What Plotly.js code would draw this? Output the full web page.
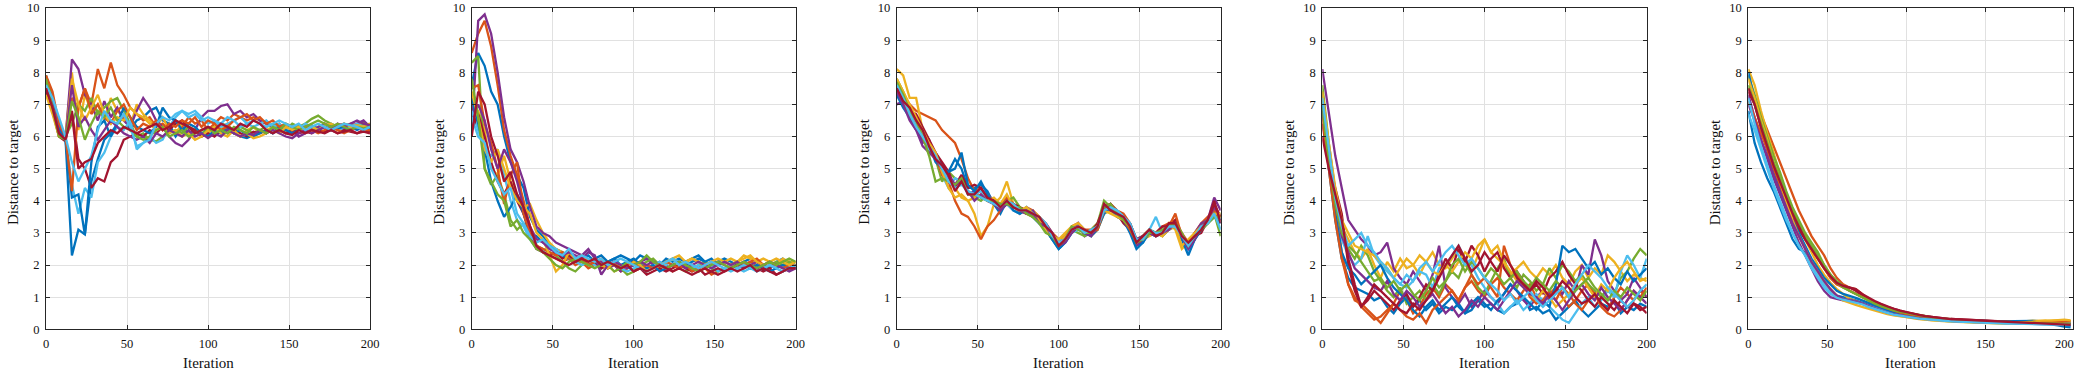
<!DOCTYPE html>
<html>
<head>
<meta charset="utf-8">
<script src="https://cdn.plot.ly/plotly-3.0.1.min.js"></script>
<style>html,body{margin:0;padding:0;background:#fff;}#chart{width:2079px;height:373px;}</style>
</head>
<body>
<div id="chart"></div>
<script>
// Iteration grid (sampled every 4 iterations)
const iterations = [0,4,8,12,16,20,24,28,32,36,40,44,48,52,56,60,64,68,72,76,80,84,88,92,96,100,104,108,112,116,120,124,128,132,136,140,144,148,152,156,160,164,168,172,176,180,184,188,192,196,200];
const iterations5 = [0,4,8,12,16,20,24,28,32,36,40,44,48,52,56,60,64,68,72,76,80,84,88,92,96,100,104,108,112,116,120,124,128,132,136,140,144,148,152,156,160,164,168,172,176,180,184,188,192,196,200,204];
const xTickVals = [0,50,100,150,200];
const yTickVals = [0,1,2,3,4,5,6,7,8,9,10];
const lineColors = ['#0072BD','#D95319','#EDB120','#7E2F8E','#77AC30','#4DBEEE','#A2142F'];
const yTitle = 'Distance to target';
const xTitle = 'Iteration';

// ---------- Panel 1 ----------
const p1_s01 = [7.9,7.0,6.2,5.95,2.3,3.1,2.95,4.6,5.3,5.9,6.1,6.4,6.6,6.2,6.5,6.6,6.8,6.9,6.5,6.4,6.0,6.3,6.1,6.2,6.05,6.3,6.2,6.1,6.25,6.1,6.0,5.95,6.05,6.2,6.1,6.3,6.15,6.2,6.1,6.3,6.2,6.35,6.25,6.3,6.2,6.35,6.25,6.3,6.2,6.3,6.25];
const p1_s02 = [7.6,7.3,6.3,6.0,7.2,6.9,7.5,7.0,8.1,7.5,8.3,7.6,7.3,6.9,6.7,6.5,6.6,6.3,6.4,6.2,6.5,6.3,6.6,6.4,6.5,6.2,6.4,6.6,6.5,6.7,6.6,6.5,6.6,6.5,6.4,6.3,6.4,6.2,6.3,6.35,6.2,6.3,6.25,6.4,6.3,6.2,6.3,6.4,6.35,6.45,6.3];
const p1_s03 = [7.7,6.9,6.0,6.0,8.0,6.2,7.3,6.8,7.0,6.5,7.2,6.8,6.6,6.3,7.0,6.7,6.5,6.3,6.6,6.2,6.1,6.4,6.3,6.2,6.0,6.1,6.3,6.2,6.4,6.1,6.0,6.2,6.3,6.1,6.2,6.3,6.2,6.1,6.3,6.25,6.35,6.2,6.3,6.4,6.3,6.2,6.35,6.3,6.4,6.35,6.4];
const p1_s04 = [7.8,7.2,6.3,5.9,8.4,8.1,7.3,7.0,6.5,7.1,6.6,6.9,6.5,6.3,6.8,7.2,6.9,6.5,6.3,6.0,5.8,5.7,5.9,6.2,6.6,6.8,6.8,6.95,7.0,6.7,6.8,6.6,6.7,6.5,6.4,6.3,6.2,6.3,6.2,6.0,6.1,6.2,6.3,6.4,6.3,6.35,6.4,6.3,6.4,6.5,6.3];
const p1_s05 = [7.9,7.1,6.1,6.0,6.4,7.0,6.8,7.2,6.7,6.9,7.1,7.2,6.8,6.4,6.0,6.1,5.9,5.85,6.0,6.1,6.2,6.1,6.3,6.2,6.1,6.2,6.3,6.4,6.35,6.2,6.3,6.2,6.1,6.2,6.3,6.4,6.3,6.2,6.4,6.3,6.4,6.55,6.65,6.5,6.4,6.3,6.4,6.35,6.3,6.4,6.35];
const p1_s06 = [7.5,7.1,6.5,6.0,4.5,3.6,4.4,4.1,5.2,5.5,6.0,6.3,6.2,6.5,5.6,5.8,6.0,5.8,5.9,6.3,6.6,6.8,6.7,6.8,6.6,6.4,6.5,6.3,6.4,6.5,6.6,6.4,6.3,6.4,6.5,6.3,6.4,6.2,6.3,6.2,6.4,6.3,6.2,6.3,6.4,6.3,6.2,6.3,6.4,6.3,6.35];
const p1_s07 = [7.4,6.8,6.0,5.85,6.8,5.3,5.0,4.4,4.7,4.6,5.2,5.4,5.9,6.0,6.1,6.0,6.2,6.1,6.3,6.2,6.4,6.5,6.3,6.2,6.0,6.1,6.0,6.2,6.1,6.2,6.1,6.0,6.15,6.1,6.2,6.1,6.2,6.1,6.2,6.1,6.15,6.1,6.2,6.15,6.2,6.1,6.2,6.15,6.1,6.2,6.15];
const p1_s08 = [7.7,7.0,6.2,5.9,4.1,4.2,2.95,5.2,6.3,6.5,6.0,6.4,6.9,6.6,6.3,6.2,6.1,6.3,6.9,6.6,6.5,6.2,6.4,6.3,6.1,6.0,6.2,6.1,6.3,6.1,6.2,6.05,6.0,6.1,6.2,6.1,6.3,6.2,6.1,6.2,6.3,6.25,6.2,6.3,6.2,6.25,6.3,6.2,6.35,6.25,6.2];
const p1_s09 = [7.9,7.4,6.4,6.0,4.3,6.9,7.5,6.7,7.0,6.6,6.4,6.8,7.0,6.6,6.2,6.4,6.3,6.5,6.2,6.4,6.3,6.5,6.4,6.6,6.3,6.5,6.4,6.2,6.3,6.5,6.6,6.7,6.5,6.6,6.4,6.5,6.3,6.4,6.3,6.2,6.3,6.2,6.1,6.2,6.3,6.2,6.1,6.2,6.3,6.2,6.2];
const p1_s10 = [7.3,6.7,6.0,5.95,7.8,7.0,6.5,6.9,7.3,6.7,6.4,6.6,6.5,6.9,6.7,6.6,6.4,6.2,6.3,6.1,6.2,6.0,6.1,5.9,6.0,6.2,6.3,6.1,6.0,6.2,6.0,6.1,5.95,6.0,6.1,6.2,6.1,6.3,6.2,6.3,6.2,6.3,6.2,6.35,6.4,6.3,6.4,6.3,6.35,6.3,6.4];
const p1_s11 = [7.6,7.0,6.1,5.9,7.6,6.3,6.6,6.2,5.9,6.2,6.5,6.3,6.1,6.0,5.9,6.0,5.8,6.1,6.0,6.2,6.1,6.0,6.2,6.0,6.1,5.95,6.1,6.0,6.2,6.1,6.0,6.1,6.05,6.2,6.1,6.2,6.1,6.0,5.95,6.1,6.2,6.1,6.2,6.3,6.2,6.4,6.3,6.4,6.5,6.4,6.35];
const p1_s12 = [7.8,6.9,6.0,5.9,7.1,6.6,5.9,6.4,6.8,6.6,6.9,6.5,6.3,6.2,6.0,5.9,6.0,6.2,6.3,6.0,6.1,6.2,6.0,6.1,6.2,6.3,6.1,6.2,6.1,6.3,6.2,6.1,6.3,6.2,6.1,6.3,6.2,6.4,6.3,6.2,6.3,6.4,6.5,6.4,6.3,6.4,6.3,6.2,6.3,6.25,6.3];
const p1_s13 = [7.6,7.2,6.6,6.0,5.2,4.6,5.0,5.4,6.2,6.8,6.5,6.4,6.7,6.3,5.7,5.8,5.9,6.4,6.6,6.5,6.7,6.8,6.6,6.7,6.5,6.6,6.5,6.4,6.6,6.5,6.3,6.4,6.5,6.4,6.3,6.4,6.5,6.4,6.3,6.4,6.2,6.3,6.4,6.3,6.2,6.3,6.4,6.35,6.3,6.2,6.3];
const p1_s14 = [7.5,6.9,6.1,5.9,6.7,5.0,5.2,5.3,5.8,6.0,6.2,6.1,6.3,6.2,6.1,6.2,6.3,6.4,6.2,6.3,6.5,6.4,6.3,6.1,6.2,6.3,6.2,6.4,6.3,6.2,6.4,6.3,6.5,6.4,6.2,6.1,6.2,6.1,6.05,6.2,6.1,6.2,6.15,6.1,6.2,6.1,6.15,6.2,6.1,6.15,6.1];

// ---------- Panel 2 ----------
const p2_s01 = [7.6,8.6,8.2,7.4,7.0,6.0,5.2,4.8,4.4,3.5,3.1,2.9,2.6,2.5,2.4,2.3,2.2,2.3,2.1,2.2,2.3,2.1,2.2,2.3,2.2,2.1,2.3,2.2,2.1,2.0,2.2,2.1,2.2,2.1,2.2,2.3,2.1,2.0,2.1,2.2,2.1,2.0,2.1,2.2,2.1,2.0,1.9,2.1,2.2,2.0,1.9];
const p2_s02 = [8.6,9.2,9.6,8.8,7.6,6.2,5.4,4.8,4.0,3.2,2.6,2.4,2.3,2.2,2.1,2.2,2.0,2.1,1.9,2.0,2.1,1.9,2.0,1.8,1.9,2.0,2.1,1.9,2.0,1.9,2.0,1.8,1.9,2.0,1.9,1.8,1.9,1.7,1.8,1.9,2.0,1.9,2.0,2.1,2.0,1.9,2.0,1.9,2.0,2.1,2.0];
const p2_s03 = [7.0,6.8,6.2,5.0,4.8,5.4,4.6,4.2,3.8,3.9,3.4,3.0,2.7,2.5,2.4,2.3,2.2,2.1,2.0,2.1,1.9,2.0,1.8,1.9,2.0,1.8,1.9,1.8,2.0,1.9,2.1,2.2,2.3,2.1,2.2,2.1,2.0,2.1,2.0,2.1,2.2,2.1,2.3,2.2,2.1,2.2,2.1,2.0,2.2,2.1,2.1];
const p2_s04 = [6.1,9.6,9.8,9.2,8.0,6.6,5.6,5.2,4.6,3.8,3.2,3.0,2.9,2.7,2.6,2.5,2.4,2.3,2.5,2.2,2.1,1.9,2.0,1.8,1.9,2.0,2.1,2.2,2.0,2.1,1.9,2.0,1.9,2.1,2.0,1.9,2.0,1.9,2.1,2.0,1.9,2.0,2.1,2.0,2.1,1.9,2.0,1.9,2.0,1.9,2.0];
const p2_s05 = [8.3,8.5,5.0,4.5,4.8,4.2,3.4,3.1,3.3,3.0,2.6,2.5,2.4,2.3,2.1,1.9,1.8,2.0,2.1,2.0,1.9,2.0,1.8,1.9,1.7,1.8,2.0,2.1,2.2,2.0,2.1,2.0,1.9,1.8,1.9,2.0,2.1,1.9,1.8,1.9,2.0,2.1,2.0,1.9,2.0,1.9,2.0,2.1,2.0,2.1,2.0];
const p2_s06 = [6.8,6.2,5.6,5.4,5.6,4.8,4.0,3.4,3.2,2.8,2.5,2.4,2.6,2.5,2.3,2.2,2.1,2.0,2.1,2.0,1.9,2.1,2.0,1.9,1.8,1.9,2.0,1.9,2.0,2.1,2.0,2.2,2.1,2.0,1.9,2.0,1.9,2.0,1.8,1.9,2.0,1.9,1.8,1.9,2.0,1.9,2.0,1.9,1.8,1.9,1.9];
const p2_s07 = [6.2,6.7,6.0,5.2,4.6,4.2,4.6,4.0,3.6,2.9,2.5,2.4,2.3,2.4,2.2,2.3,2.1,2.2,2.0,2.1,1.9,2.0,2.1,1.9,2.0,1.8,1.9,1.7,1.8,1.9,1.8,1.9,2.0,1.9,1.8,1.9,1.7,1.8,1.9,1.8,1.9,2.0,1.9,2.0,1.9,1.8,1.9,1.7,1.8,1.9,1.9];
const p2_s08 = [7.2,6.4,5.6,4.6,4.0,3.5,3.8,4.2,3.6,3.0,2.9,2.7,2.6,2.4,2.3,2.2,2.1,2.2,2.3,2.1,2.0,2.1,2.2,2.0,2.1,2.2,2.0,1.9,2.0,1.8,1.9,2.0,2.1,2.0,2.1,2.2,2.1,2.2,2.0,2.1,2.0,2.1,2.0,1.9,2.0,1.9,1.8,1.9,2.0,1.9,1.9];
const p2_s09 = [7.5,7.6,6.4,5.8,5.0,3.9,4.8,5.2,3.6,3.0,2.6,2.5,2.4,2.3,2.4,2.2,2.1,2.2,2.0,2.1,2.2,2.0,2.1,1.9,2.0,2.1,1.9,2.0,1.9,2.0,2.1,2.0,1.9,2.0,1.8,1.9,2.0,2.1,2.0,2.1,2.0,2.1,2.0,2.1,2.2,2.0,2.1,2.0,1.9,2.0,2.0];
const p2_s10 = [7.4,6.6,5.6,5.2,5.6,5.0,4.4,4.0,3.8,3.6,3.0,2.8,2.3,1.8,2.0,2.4,2.2,2.3,2.1,2.2,2.0,1.9,2.1,2.0,1.9,2.1,2.0,1.8,1.9,2.0,2.1,2.2,2.0,2.1,2.2,2.1,2.0,2.1,2.2,2.1,2.0,2.1,2.2,2.3,2.1,2.0,2.1,2.2,2.1,2.0,2.1];
const p2_s11 = [6.4,7.0,6.5,5.6,5.0,5.6,5.2,4.6,3.8,3.2,2.8,2.7,2.5,2.4,2.3,2.4,2.3,2.2,2.4,2.3,1.7,2.0,2.1,2.0,1.9,2.0,2.1,2.0,2.1,2.0,1.9,2.0,2.1,1.9,2.0,2.1,2.0,1.9,2.0,2.1,2.0,2.1,1.9,2.0,1.9,2.0,2.1,2.0,1.9,1.8,1.9];
const p2_s12 = [7.8,6.6,5.0,4.6,4.2,4.0,3.2,3.4,3.0,2.8,2.5,2.4,2.2,2.0,1.9,2.1,2.2,2.1,2.0,1.9,2.0,2.1,2.0,1.9,2.1,2.0,2.1,2.3,2.1,2.0,1.9,2.0,2.1,2.0,1.9,1.8,1.9,2.0,2.1,2.0,1.9,2.0,2.1,2.0,1.9,2.0,2.1,2.0,2.1,2.2,2.1];
const p2_s13 = [6.6,6.0,5.8,5.0,4.6,4.2,4.4,3.6,3.3,2.9,2.7,2.8,2.6,2.4,2.3,2.5,2.2,2.3,2.2,2.1,2.2,2.0,2.1,2.2,2.1,2.0,1.9,1.8,1.9,2.0,2.1,2.2,2.0,2.1,2.0,1.9,2.0,2.1,2.0,1.9,1.8,1.9,2.0,1.9,1.8,1.9,2.0,1.9,1.8,1.9,2.0];
const p2_s14 = [6.0,7.4,7.0,6.0,5.4,4.6,4.9,4.2,3.8,3.2,2.6,2.4,2.3,2.2,2.1,2.0,2.1,2.2,2.1,2.2,2.0,2.1,2.0,1.9,2.0,1.8,1.9,1.8,1.9,2.0,1.9,1.8,1.9,1.8,1.7,1.8,1.9,1.8,1.7,1.8,1.9,1.8,1.9,2.0,1.8,1.9,1.8,1.7,1.8,1.9,1.9];

// ---------- Panel 3 ----------
const p3_s01 = [7.4,7.0,6.6,6.3,5.9,5.7,5.5,5.1,4.9,5.3,5.0,4.4,4.4,4.5,4.3,3.9,3.7,3.9,3.7,3.6,3.8,3.5,3.3,3.1,2.8,2.5,2.7,3.0,3.3,3.1,2.9,3.3,3.6,3.9,3.7,3.4,3.1,2.6,2.7,3.1,3.0,2.9,3.1,3.4,2.8,2.5,2.8,3.1,3.3,3.5,3.3];
const p3_s02 = [7.7,7.3,7.0,6.8,6.7,6.6,6.5,6.2,6.0,5.8,5.3,4.7,4.3,4.4,4.0,3.9,3.7,4.1,3.9,3.6,3.8,3.7,3.5,3.3,3.0,2.8,2.9,3.2,3.3,3.1,3.1,3.3,3.8,3.9,3.7,3.6,3.3,2.8,2.9,3.1,3.0,3.2,3.3,3.4,3.0,2.7,3.0,3.3,3.5,3.7,3.5];
const p3_s03 = [8.1,7.9,7.2,7.2,6.2,5.8,5.4,4.9,4.6,4.4,4.1,4.0,3.6,2.9,3.2,3.9,4.1,4.6,3.9,3.8,3.6,3.7,3.5,3.2,2.9,2.7,2.9,3.1,3.2,3.0,2.9,3.1,3.6,3.7,3.5,3.4,3.1,2.7,2.8,2.9,3.0,2.9,3.3,3.1,2.5,2.7,3.0,3.1,3.3,3.5,3.4];
const p3_s04 = [7.0,7.1,6.7,6.4,5.8,5.9,5.3,5.0,4.7,4.5,4.8,4.2,4.3,4.1,4.2,4.0,3.8,4.0,3.9,3.7,3.6,3.7,3.4,3.3,3.0,2.6,2.8,3.1,3.3,2.9,3.0,3.2,3.8,3.7,3.6,3.4,3.2,2.6,2.8,3.0,2.9,3.0,3.2,3.3,2.9,2.6,3.0,3.3,3.4,3.8,3.5];
const p3_s05 = [7.8,7.4,6.9,6.5,6.0,5.6,5.3,4.6,4.9,4.7,4.6,4.3,4.1,4.0,4.2,3.9,3.8,4.0,4.1,3.8,3.7,3.5,3.4,3.1,2.8,2.7,2.8,3.1,3.0,2.9,3.1,3.3,4.0,3.8,3.6,3.5,3.3,2.8,2.9,3.1,3.0,3.1,3.2,3.2,2.8,2.7,2.9,3.2,3.4,3.6,2.9];
const p3_s06 = [7.5,7.2,6.7,6.4,6.1,5.6,5.5,4.8,4.4,4.7,4.6,4.2,4.2,4.3,4.0,4.0,3.8,3.9,3.7,3.6,3.8,3.6,3.4,3.2,2.9,2.8,2.7,3.0,3.1,3.0,3.0,3.2,3.6,3.8,3.7,3.5,3.2,2.7,2.9,3.1,3.5,3.0,3.2,3.3,2.9,2.4,2.8,3.2,3.3,3.5,3.6];
const p3_s07 = [7.6,7.2,6.8,6.7,6.3,5.9,5.5,5.2,4.9,4.4,4.8,4.4,4.5,4.4,4.1,4.0,3.9,4.1,3.9,3.8,3.7,3.6,3.4,3.2,2.9,2.6,2.8,3.0,3.2,3.1,3.0,3.3,3.8,3.9,3.6,3.3,3.1,2.7,2.8,3.0,3.0,3.2,3.2,3.4,2.8,2.6,2.9,3.0,3.4,3.9,3.5];
const p3_s08 = [7.3,6.9,6.6,6.2,6.0,5.7,5.2,5.0,4.9,5.0,5.5,4.5,4.3,4.6,4.2,3.9,3.6,4.0,3.7,3.6,3.7,3.5,3.3,3.1,2.8,2.5,2.7,3.0,3.2,3.0,2.9,3.1,3.6,3.8,3.5,3.4,3.0,2.5,2.7,3.0,2.9,3.0,3.1,3.2,2.8,2.3,2.8,3.1,3.3,3.6,3.4];
const p3_s09 = [7.5,7.1,6.7,6.3,6.0,5.7,5.4,4.8,4.6,4.0,3.6,3.5,3.2,2.8,3.2,3.4,3.7,4.1,3.8,3.7,3.6,3.5,3.4,3.2,2.9,2.7,2.8,3.0,3.2,3.0,3.0,3.1,3.7,3.8,3.6,3.4,3.1,2.7,2.9,3.1,2.9,3.0,3.2,3.6,2.9,2.7,3.0,3.2,3.4,3.6,3.5];
const p3_s10 = [7.8,7.4,7.0,6.6,6.2,5.8,5.5,4.9,4.4,4.1,4.2,4.0,4.1,4.2,4.0,4.1,3.9,4.2,3.8,3.7,3.8,3.6,3.4,3.1,2.9,2.8,3.0,3.2,3.3,3.1,3.0,3.2,3.7,3.6,3.5,3.4,3.2,2.8,2.8,3.0,3.0,2.9,3.1,3.2,2.6,2.8,3.0,3.2,3.3,3.6,3.6];
const p3_s11 = [7.4,7.0,6.5,6.2,5.7,5.5,5.3,5.0,4.8,4.5,4.6,4.3,4.0,4.2,4.0,3.9,3.7,3.9,3.8,3.7,3.6,3.6,3.3,3.2,2.9,2.6,2.7,3.0,3.2,3.0,2.9,3.2,3.7,3.8,3.6,3.5,3.3,2.8,2.9,3.0,2.9,3.0,3.1,3.3,2.9,2.5,2.8,3.2,3.4,4.1,3.7];
const p3_s12 = [7.7,7.3,6.8,6.5,6.0,5.4,4.6,4.7,4.6,4.5,4.7,4.2,4.2,4.1,4.0,4.0,3.9,3.9,3.8,3.8,3.6,3.5,3.3,3.0,2.9,2.6,2.8,3.2,3.1,3.0,3.0,3.2,3.8,3.9,3.6,3.4,3.2,2.7,2.8,3.0,3.0,3.1,3.2,3.3,3.0,2.6,2.9,3.1,3.3,3.5,3.5];
const p3_s13 = [7.6,7.2,6.7,6.3,6.0,5.7,5.4,5.0,4.6,4.4,4.5,4.3,4.2,4.1,4.0,3.9,3.8,4.0,3.9,3.7,3.7,3.6,3.5,3.3,2.9,2.7,2.8,3.1,3.2,3.0,3.1,3.2,3.7,3.8,3.7,3.5,3.3,2.8,2.8,3.1,3.0,3.0,3.2,3.2,2.9,2.6,2.9,3.2,3.3,3.6,3.1];
const p3_s14 = [7.5,7.1,6.9,6.5,6.2,5.7,5.3,5.1,4.8,4.3,4.6,4.2,4.2,4.4,4.1,4.0,3.8,4.0,3.8,3.7,3.7,3.6,3.5,3.2,3.0,2.6,2.8,3.1,3.2,3.1,3.0,3.2,3.9,3.7,3.6,3.5,3.2,2.7,2.9,3.1,2.9,3.0,3.3,3.3,2.9,2.7,2.9,3.1,3.4,4.0,3.3];

// ---------- Panel 4 ----------
const p4_s01 = [7.4,5.0,3.4,2.2,1.6,1.3,1.2,1.1,0.9,1.0,0.7,0.5,0.8,1.0,0.7,0.9,0.6,0.8,0.5,0.7,0.6,0.8,0.5,0.6,0.9,0.7,0.8,0.6,0.5,0.7,0.8,1.0,0.6,0.7,0.5,0.6,0.3,0.5,0.7,0.9,0.6,0.4,0.6,0.8,0.7,0.9,0.5,0.7,0.6,0.8,0.7];
const p4_s02 = [6.8,5.4,3.8,2.4,1.4,1.0,0.7,0.5,0.3,0.4,0.6,0.8,1.2,0.9,0.5,0.7,1.1,1.3,1.0,1.4,1.2,0.9,1.3,1.5,1.2,1.0,1.4,1.6,1.3,1.1,0.9,1.2,1.4,1.0,0.8,1.1,1.3,1.0,0.7,0.9,1.2,1.4,1.1,0.8,0.6,1.0,1.3,1.1,0.9,1.2,1.0];
const p4_s03 = [7.2,5.6,4.2,3.2,2.8,2.4,2.2,2.5,2.0,1.6,2.1,1.8,2.2,1.9,2.0,1.7,2.1,2.4,2.0,1.9,2.2,2.5,2.0,1.8,2.3,2.8,2.4,2.2,2.0,1.7,1.9,2.1,1.8,1.6,1.9,1.7,2.0,1.6,1.4,1.8,2.0,1.6,1.9,1.7,2.3,2.1,1.8,1.5,1.7,1.6,1.5];
const p4_s04 = [8.1,6.8,5.4,4.4,3.4,3.1,2.8,2.6,2.3,2.4,2.7,1.9,1.6,1.4,1.8,1.5,1.2,1.7,2.6,1.3,1.0,0.8,1.1,0.7,0.9,1.2,1.0,0.8,1.1,1.4,1.2,0.9,0.7,1.0,1.2,0.9,1.3,1.1,1.5,1.2,2.0,1.7,2.8,2.3,1.5,1.2,0.9,1.1,1.6,1.3,1.0];
const p4_s05 = [7.6,5.8,4.3,3.0,2.5,2.2,2.6,2.3,1.8,1.5,1.2,1.0,1.3,0.8,1.0,1.2,0.9,1.4,1.1,1.5,1.8,1.6,2.1,1.7,1.3,1.1,1.5,1.9,2.2,1.6,1.3,1.7,1.5,1.2,1.4,1.9,1.6,2.0,1.8,1.5,1.7,1.4,1.2,1.0,1.3,1.1,1.6,1.8,2.2,2.5,2.3];
const p4_s06 = [7.0,5.4,4.0,2.8,2.3,2.0,2.2,2.9,2.3,2.0,1.8,1.6,1.4,1.3,1.5,1.8,1.7,1.3,1.9,2.0,2.3,2.6,2.2,2.0,1.6,1.3,1.0,0.8,0.5,0.7,0.9,0.6,0.8,1.1,0.9,0.7,0.5,0.3,0.2,0.5,0.8,1.0,0.7,0.9,1.2,1.0,1.8,2.3,2.0,1.6,2.2];
const p4_s07 = [6.4,5.2,4.4,3.6,2.0,1.2,0.7,0.9,1.2,1.0,0.8,0.6,0.9,1.1,0.7,1.0,1.4,1.2,1.7,2.2,1.9,2.5,2.1,2.6,2.3,1.8,2.2,2.4,1.9,1.6,1.8,1.5,1.2,1.4,1.1,1.6,1.8,2.1,1.7,1.4,1.2,0.9,0.7,1.0,0.8,0.6,0.9,0.7,0.8,0.6,0.7];
const p4_s08 = [7.0,5.2,3.6,2.4,1.9,1.7,1.4,1.6,1.8,2.0,1.6,1.3,1.1,0.9,0.6,0.4,0.7,0.9,0.6,0.8,1.0,0.7,0.5,0.8,1.0,0.8,0.6,0.9,1.1,1.4,1.2,1.0,0.8,0.6,0.9,0.7,1.4,2.6,2.4,2.5,2.2,1.9,2.1,1.7,1.9,1.6,1.4,1.8,1.5,1.7,1.9];
const p4_s09 = [6.6,5.0,3.4,2.2,1.4,0.9,0.8,0.6,0.4,0.2,0.5,0.8,0.6,0.4,0.3,0.5,0.2,0.6,0.8,1.0,1.2,0.9,1.3,1.7,1.4,1.6,1.3,1.0,2.6,2.0,1.7,1.4,1.0,0.8,0.9,1.2,0.9,1.3,1.1,0.8,0.6,0.9,1.1,0.7,0.5,0.4,0.6,0.9,1.2,1.0,1.3];
const p4_s10 = [7.4,5.8,4.4,3.4,3.0,2.6,2.5,2.4,2.3,2.1,1.9,1.6,1.9,2.2,2.0,2.3,2.1,1.8,1.7,2.0,1.8,2.1,2.4,2.2,2.6,2.8,2.4,2.6,2.1,1.8,1.5,1.3,1.1,0.9,1.2,1.0,0.7,0.9,1.1,1.4,1.6,1.3,1.0,1.4,1.2,1.6,1.9,2.1,1.8,1.5,1.6];
const p4_s11 = [6.8,5.6,4.0,2.9,2.4,1.9,1.7,1.5,1.3,1.2,1.5,1.1,0.9,1.2,1.0,0.7,0.9,1.1,0.8,0.5,0.7,0.4,0.6,0.9,0.7,1.0,0.8,0.6,0.9,1.2,1.5,1.3,1.1,1.0,0.8,1.1,0.9,0.6,0.9,1.2,1.4,1.1,0.9,1.3,1.0,0.8,0.6,0.9,1.2,1.0,0.8];
const p4_s12 = [6.9,5.2,3.9,3.0,2.6,2.4,2.1,1.8,1.5,1.6,1.3,1.5,1.2,1.4,1.1,0.9,1.2,1.6,1.3,1.5,2.0,2.2,1.8,2.1,1.9,1.6,1.9,1.7,1.4,1.6,1.8,1.5,1.3,1.6,1.4,1.2,1.5,1.3,1.0,1.2,1.4,1.6,1.3,1.1,0.9,1.2,1.0,1.3,1.1,0.9,1.2];
const p4_s13 = [7.2,5.6,4.1,3.2,2.6,2.8,3.0,2.6,2.4,2.1,1.9,1.6,1.4,1.7,1.5,1.9,2.1,1.8,2.1,2.4,2.6,2.3,2.0,2.2,1.9,1.6,1.4,1.2,0.9,1.1,0.8,1.0,1.2,0.9,0.7,0.9,1.1,1.3,1.0,1.4,1.7,2.0,1.8,1.6,1.3,1.1,0.9,0.7,0.9,1.2,1.4];
const p4_s14 = [6.0,5.0,4.2,3.4,2.2,1.4,0.7,1.0,1.4,1.2,1.0,0.8,0.6,0.5,0.8,0.6,0.9,1.2,1.6,2.0,2.3,2.6,2.2,1.8,2.0,2.4,2.1,1.8,2.3,2.0,1.6,1.4,1.2,1.5,1.3,1.0,1.2,1.5,1.3,1.0,0.8,0.9,1.1,0.8,0.6,0.9,0.7,0.5,0.8,0.7,0.5];

// ---------- Panel 5 ----------
const p5_s01 = [6.8,5.8,5.2,4.7,4.3,3.8,3.3,2.8,2.5,2.4,2.1,1.8,1.5,1.2,1.05,1.0,0.95,0.9,0.82,0.75,0.68,0.62,0.56,0.5,0.46,0.42,0.38,0.35,0.32,0.3,0.28,0.27,0.26,0.25,0.24,0.23,0.22,0.22,0.21,0.2,0.22,0.24,0.23,0.21,0.2,0.19,0.2,0.18,0.15,0.12,0.08,0.06];
const p5_s02 = [7.5,7.2,6.7,6.2,5.7,5.2,4.7,4.2,3.7,3.3,2.9,2.6,2.3,1.9,1.6,1.4,1.3,1.25,1.1,0.95,0.85,0.75,0.68,0.6,0.55,0.5,0.46,0.42,0.39,0.36,0.33,0.31,0.3,0.29,0.28,0.27,0.26,0.25,0.24,0.23,0.22,0.21,0.21,0.2,0.2,0.19,0.2,0.21,0.2,0.19,0.18,0.18];
const p5_s03 = [8.1,7.6,6.8,6.1,5.5,4.8,4.2,3.7,3.2,2.8,2.4,2.0,1.7,1.45,1.25,1.1,0.95,0.88,0.8,0.72,0.64,0.57,0.5,0.45,0.41,0.38,0.35,0.32,0.3,0.28,0.27,0.26,0.25,0.24,0.23,0.22,0.21,0.21,0.22,0.23,0.22,0.24,0.25,0.24,0.26,0.27,0.26,0.25,0.27,0.28,0.26,0.25];
const p5_s04 = [7.3,6.6,5.9,5.3,4.7,4.2,3.7,3.2,2.7,2.3,1.9,1.5,1.2,1.0,0.95,0.9,0.92,0.88,0.82,0.75,0.68,0.61,0.55,0.5,0.46,0.42,0.39,0.36,0.33,0.31,0.3,0.29,0.28,0.27,0.26,0.25,0.24,0.24,0.23,0.22,0.21,0.21,0.2,0.19,0.19,0.18,0.18,0.17,0.17,0.16,0.16,0.15];
const p5_s05 = [7.9,7.3,6.6,6.0,5.4,4.9,4.3,3.8,3.4,3.0,2.7,2.4,2.0,1.7,1.5,1.35,1.2,1.1,1.0,0.9,0.82,0.74,0.67,0.61,0.56,0.52,0.48,0.44,0.41,0.38,0.35,0.33,0.31,0.3,0.29,0.28,0.27,0.26,0.25,0.24,0.24,0.23,0.23,0.22,0.22,0.21,0.21,0.2,0.2,0.19,0.19,0.18];
const p5_s06 = [6.7,6.2,5.6,5.0,4.4,3.9,3.4,3.0,2.6,2.3,2.0,1.7,1.4,1.15,1.0,0.95,0.9,0.86,0.8,0.73,0.66,0.6,0.54,0.49,0.45,0.41,0.38,0.35,0.32,0.3,0.28,0.27,0.26,0.25,0.24,0.23,0.22,0.21,0.2,0.2,0.19,0.19,0.18,0.18,0.17,0.18,0.2,0.22,0.24,0.22,0.2,0.2];
const p5_s07 = [7.4,7.0,6.3,5.6,5.0,4.5,4.0,3.5,3.1,2.8,2.5,2.2,1.9,1.6,1.4,1.35,1.3,1.2,1.05,0.95,0.85,0.77,0.7,0.63,0.58,0.53,0.48,0.44,0.41,0.38,0.36,0.34,0.32,0.31,0.3,0.29,0.28,0.27,0.26,0.25,0.24,0.23,0.23,0.22,0.21,0.21,0.2,0.19,0.18,0.17,0.16,0.15];
const p5_s08 = [8.0,7.1,6.3,5.6,5.0,4.3,3.8,3.4,3.0,2.6,2.2,1.9,1.6,1.4,1.2,1.1,1.05,0.98,0.9,0.82,0.74,0.67,0.6,0.54,0.5,0.46,0.42,0.38,0.35,0.32,0.3,0.28,0.27,0.26,0.25,0.26,0.27,0.26,0.25,0.24,0.23,0.24,0.25,0.26,0.27,0.26,0.25,0.24,0.22,0.2,0.15,0.1];
const p5_s09 = [7.1,6.6,6.1,5.6,5.0,4.5,4.0,3.6,3.2,2.9,2.5,2.2,1.9,1.6,1.4,1.3,1.2,1.1,1.0,0.9,0.8,0.72,0.65,0.58,0.52,0.47,0.43,0.4,0.37,0.34,0.32,0.3,0.29,0.28,0.27,0.26,0.25,0.24,0.23,0.22,0.21,0.2,0.2,0.19,0.19,0.2,0.22,0.24,0.23,0.22,0.24,0.25];
const p5_s10 = [7.8,7.2,6.5,5.9,5.2,4.6,4.0,3.4,2.9,2.5,2.1,1.8,1.5,1.25,1.05,0.9,0.82,0.76,0.7,0.64,0.58,0.52,0.47,0.43,0.4,0.37,0.34,0.32,0.3,0.28,0.26,0.25,0.24,0.23,0.22,0.21,0.2,0.2,0.19,0.19,0.18,0.18,0.19,0.2,0.22,0.24,0.26,0.28,0.27,0.29,0.3,0.28];
const p5_s11 = [7.0,6.5,5.9,5.4,4.8,4.3,3.8,3.3,2.9,2.5,2.1,1.8,1.5,1.25,1.05,0.95,0.9,0.85,0.8,0.72,0.65,0.58,0.52,0.47,0.43,0.4,0.37,0.34,0.32,0.3,0.28,0.27,0.26,0.25,0.24,0.23,0.22,0.21,0.21,0.2,0.2,0.19,0.19,0.18,0.18,0.17,0.17,0.16,0.16,0.15,0.15,0.14];
const p5_s12 = [7.6,7.0,6.4,5.8,5.2,4.7,4.2,3.7,3.3,2.9,2.6,2.3,2.0,1.7,1.45,1.3,1.2,1.1,0.98,0.88,0.8,0.72,0.65,0.59,0.54,0.5,0.46,0.42,0.39,0.36,0.34,0.32,0.3,0.29,0.28,0.27,0.26,0.25,0.24,0.23,0.22,0.22,0.21,0.21,0.2,0.2,0.19,0.19,0.18,0.18,0.17,0.17];
const p5_s13 = [7.2,6.4,5.7,5.1,4.5,4.0,3.5,3.0,2.6,2.3,1.9,1.6,1.3,1.1,0.98,0.92,0.88,0.83,0.78,0.7,0.63,0.57,0.51,0.46,0.42,0.39,0.36,0.33,0.31,0.29,0.27,0.26,0.25,0.24,0.23,0.22,0.21,0.2,0.2,0.19,0.19,0.18,0.18,0.17,0.17,0.16,0.16,0.15,0.15,0.14,0.14,0.13];
const p5_s14 = [7.5,7.0,6.3,5.7,5.1,4.6,4.1,3.6,3.2,2.8,2.5,2.2,1.9,1.65,1.45,1.35,1.3,1.25,1.1,0.98,0.88,0.79,0.71,0.64,0.58,0.53,0.49,0.45,0.41,0.38,0.36,0.34,0.32,0.31,0.3,0.29,0.28,0.27,0.26,0.25,0.25,0.24,0.23,0.22,0.21,0.2,0.19,0.18,0.17,0.16,0.15,0.14];

const panels = [
  {x: iterations,  series: [p1_s01,p1_s02,p1_s03,p1_s04,p1_s05,p1_s06,p1_s07,p1_s08,p1_s09,p1_s10,p1_s11,p1_s12,p1_s13,p1_s14], xmax: 200},
  {x: iterations,  series: [p2_s01,p2_s02,p2_s03,p2_s04,p2_s05,p2_s06,p2_s07,p2_s08,p2_s09,p2_s10,p2_s11,p2_s12,p2_s13,p2_s14], xmax: 200},
  {x: iterations,  series: [p3_s01,p3_s02,p3_s03,p3_s04,p3_s05,p3_s06,p3_s07,p3_s08,p3_s09,p3_s10,p3_s11,p3_s12,p3_s13,p3_s14], xmax: 200},
  {x: iterations,  series: [p4_s01,p4_s02,p4_s03,p4_s04,p4_s05,p4_s06,p4_s07,p4_s08,p4_s09,p4_s10,p4_s11,p4_s12,p4_s13,p4_s14], xmax: 200},
  {x: iterations5, series: [p5_s01,p5_s02,p5_s03,p5_s04,p5_s05,p5_s06,p5_s07,p5_s08,p5_s09,p5_s10,p5_s11,p5_s12,p5_s13,p5_s14], xmax: 205.7}
];

// ---------- layout geometry (pixels) ----------
const W = 2079, H = 373;
const plotLeft = [46, 471.7, 896.7, 1322.3, 1748.3];
const plotWidth = [324, 324, 324, 324.4, 325];
const plotTop = 8, plotBottom = 329.3;
const FONT = 'Liberation Serif, Times New Roman, serif';
const axisColor = '#262626';

const traces = [];
const layout = {
  width: W, height: H,
  margin: {l: 0, r: 0, t: 0, b: 0, pad: 0},
  paper_bgcolor: '#fff', plot_bgcolor: '#fff',
  showlegend: false,
  font: {family: FONT, size: 12.5, color: '#000'},
  annotations: []
};
const warn = [];

panels.forEach((p, k) => {
  const n = k + 1;
  const xa = n === 1 ? 'x' : 'x' + n;
  const ya = n === 1 ? 'y' : 'y' + n;
  p.series.forEach((s, j) => {
    if (s.length !== p.x.length) warn.push('p' + n + 's' + (j + 1) + ':' + s.length);
    traces.push({
      x: p.x, y: s, xaxis: xa, yaxis: ya, type: 'scatter', mode: 'lines',
      line: {color: lineColors[j % 7], width: 2.3}, hoverinfo: 'skip', showlegend: false
    });
  });
  const common = {
    ticks: 'inside', ticklen: 4, tickwidth: 1, tickcolor: axisColor,
    showline: true, linecolor: axisColor, linewidth: 1, mirror: 'ticks',
    showgrid: true, gridcolor: '#e1e1e1', gridwidth: 1, zeroline: false,
    ticklabeloverflow: 'allow',
    tickfont: {family: FONT, size: 12.5, color: '#111'}, fixedrange: true
  };
  layout[n === 1 ? 'xaxis' : 'xaxis' + n] = Object.assign({}, common, {
    domain: [plotLeft[k] / W, (plotLeft[k] + plotWidth[k]) / W],
    anchor: ya, range: [0, p.xmax], tickvals: xTickVals, ticklabelstandoff: 3
  });
  layout[n === 1 ? 'yaxis' : 'yaxis' + n] = Object.assign({}, common, {
    domain: [1 - plotBottom / H, 1 - plotTop / H],
    anchor: xa, range: [0, 10], tickvals: yTickVals, ticklabelstandoff: 3
  });
  const cx = (plotLeft[k] + plotWidth[k] / 2) / W;
  layout.annotations.push({
    text: xTitle, xref: 'paper', yref: 'paper', x: cx, y: 1 - 363 / H,
    xanchor: 'center', yanchor: 'middle', showarrow: false,
    font: {family: FONT, size: 15, color: '#111'}
  });
  layout.annotations.push({
    text: yTitle, xref: 'paper', yref: 'paper', x: (plotLeft[k] - 33) / W, y: 1 - 172 / H,
    xanchor: 'center', yanchor: 'middle', textangle: -90, showarrow: false,
    font: {family: FONT, size: 15, color: '#111'}
  });
});

if (warn.length) {
  layout.annotations.push({text: 'LEN: ' + warn.join(' '), xref: 'paper', yref: 'paper', x: 0.5, y: 0.5, showarrow: false, font: {size: 16, color: 'red'}});
}

Plotly.newPlot('chart', traces, layout, {displayModeBar: false, staticPlot: true});
</script>
</body>
</html>
